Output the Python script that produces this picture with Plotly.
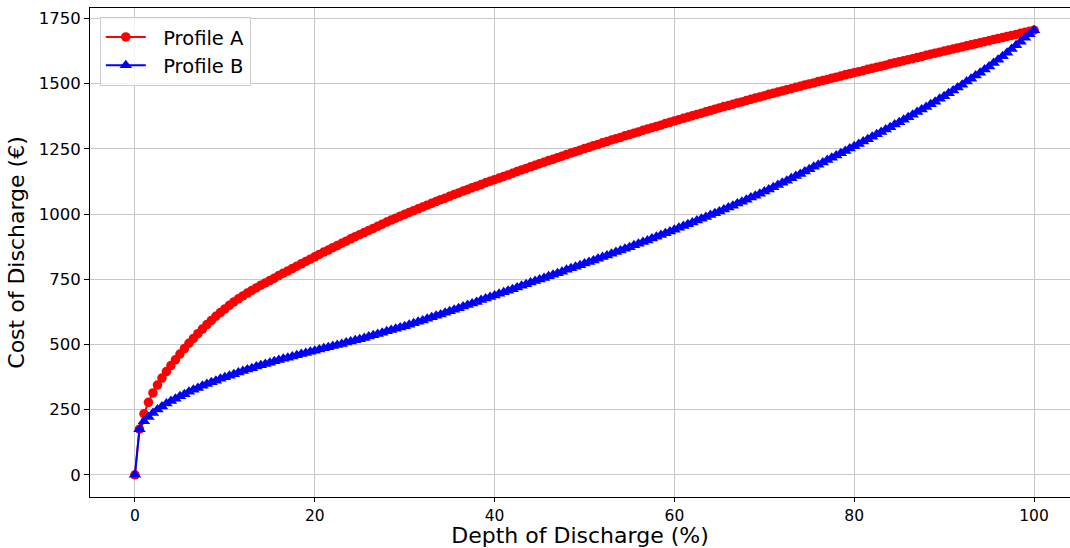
import plotly.graph_objects as go

# Depth of discharge grid (%), sampled every 0.5 %
depth = [i / 2 for i in range(201)]

# Cost of discharge (EUR) for each profile
profile_a = [
    0, 175, 234, 278, 314, 344, 371, 396, 419, 441, 463,
    484, 504, 523, 541, 559, 576, 592, 608, 622, 636,
    650, 663, 675, 686, 697, 707, 717, 727, 736, 745,
    754, 764, 773, 782, 791, 800, 809, 818, 827, 836,
    845, 854, 862, 871, 879, 888, 896, 905, 913, 921,
    929, 937, 945, 953, 961, 969, 977, 984, 992, 999,
    1006, 1013, 1020, 1027, 1034, 1041, 1048, 1055, 1061, 1068,
    1075, 1081, 1088, 1094, 1101, 1107, 1113, 1120, 1126, 1132,
    1138, 1144, 1150, 1156, 1163, 1169, 1175, 1181, 1187, 1193,
    1199, 1205, 1210, 1216, 1222, 1228, 1234, 1239, 1245, 1251,
    1256, 1262, 1267, 1273, 1278, 1284, 1289, 1294, 1300, 1305,
    1310, 1315, 1321, 1326, 1331, 1336, 1341, 1347, 1352, 1357,
    1362, 1367, 1372, 1377, 1382, 1387, 1392, 1397, 1402, 1407,
    1412, 1416, 1421, 1426, 1430, 1435, 1440, 1445, 1449, 1454,
    1459, 1463, 1468, 1472, 1477, 1481, 1486, 1490, 1495, 1499,
    1503, 1508, 1512, 1516, 1521, 1525, 1529, 1534, 1538, 1542,
    1546, 1550, 1555, 1559, 1563, 1567, 1571, 1576, 1580, 1584,
    1588, 1592, 1596, 1600, 1604, 1609, 1613, 1617, 1621, 1625,
    1629, 1633, 1637, 1641, 1645, 1649, 1653, 1657, 1661, 1665,
    1669, 1673, 1677, 1681, 1685, 1689, 1693, 1697, 1701, 1705,
]

profile_b = [
    0, 175, 205, 222, 237, 250, 262, 273, 283, 292, 301,
    309, 318, 326, 333, 341, 348, 355, 361, 368, 374,
    380, 386, 392, 398, 404, 409, 415, 420, 425, 430,
    435, 440, 445, 449, 454, 458, 463, 467, 472, 476,
    480, 485, 489, 494, 498, 502, 507, 511, 516, 520,
    525, 530, 535, 540, 545, 550, 555, 560, 565, 570,
    575, 581, 587, 592, 598, 604, 610, 615, 621, 627,
    633, 639, 645, 651, 657, 663, 670, 676, 682, 688,
    694, 700, 706, 712, 718, 725, 731, 737, 743, 749,
    755, 761, 767, 773, 779, 786, 792, 798, 804, 810,
    816, 822, 829, 835, 841, 848, 854, 860, 867, 873,
    880, 886, 893, 899, 906, 913, 920, 926, 933, 940,
    947, 954, 961, 968, 975, 982, 989, 996, 1003, 1010,
    1017, 1025, 1032, 1040, 1047, 1055, 1063, 1070, 1078, 1086,
    1094, 1103, 1111, 1120, 1128, 1137, 1146, 1154, 1163, 1172,
    1181, 1189, 1198, 1207, 1216, 1225, 1233, 1242, 1251, 1260,
    1269, 1278, 1287, 1296, 1306, 1315, 1324, 1333, 1343, 1352,
    1362, 1371, 1381, 1391, 1401, 1411, 1421, 1431, 1442, 1452,
    1463, 1474, 1485, 1496, 1508, 1519, 1531, 1542, 1554, 1566,
    1579, 1592, 1605, 1619, 1633, 1647, 1661, 1676, 1690, 1705,
]

x_ticks = [0, 20, 40, 60, 80, 100]
y_ticks = [0, 250, 500, 750, 1000, 1250, 1500, 1750]

FONT = "DejaVu Sans"
GRID = "#c8c8c8"
PAD = "\u00a0\u00a0"  # small gap between legend symbol and label

fig = go.Figure()
fig.add_trace(go.Scatter(
    x=depth, y=profile_a, name=PAD + "Profile A", mode="lines+markers",
    line=dict(color="#ff0000", width=2),
    marker=dict(symbol="circle", size=9.5, color="#ff0000"),
))
fig.add_trace(go.Scatter(
    x=depth, y=profile_b, name=PAD + "Profile B", mode="lines+markers",
    line=dict(color="#0000ff", width=2),
    marker=dict(symbol="triangle-up", size=11, color="#0000ff"),
))

fig.update_layout(
    width=1070, height=548,
    margin=dict(l=90, r=0, t=8, b=51),
    paper_bgcolor="white", plot_bgcolor="white",
    font=dict(family=FONT, color="black", size=16),
    showlegend=True,
    legend=dict(
        x=0.01, y=0.982, xanchor="left", yanchor="top",
        bgcolor="rgba(255,255,255,0.8)", bordercolor="#cccccc", borderwidth=1,
        font=dict(family=FONT, size=19.5, color="black"),
        itemwidth=40, tracegroupgap=5,
    ),
)

fig.update_xaxes(
    range=[-5, 104.0], tickvals=x_ticks, ticktext=[str(v) for v in x_ticks],
    showgrid=True, gridcolor=GRID, gridwidth=1, zeroline=False,
    showline=True, linecolor="black", linewidth=1, mirror=True,
    ticks="outside", ticklen=4, tickcolor="black", automargin=False,
    tickfont=dict(family=FONT, size=15.5, color="black"),
    title=dict(text="Depth of Discharge (%)", font=dict(family=FONT, size=22), standoff=10),
)
fig.update_yaxes(
    range=[-85.25, 1790.25], tickvals=y_ticks, ticktext=[str(v) for v in y_ticks],
    showgrid=True, gridcolor=GRID, gridwidth=1, zeroline=False,
    showline=True, linecolor="black", linewidth=1, mirror=False,
    ticks="outside", ticklen=5, tickcolor="black", automargin=False,
    tickfont=dict(family=FONT, size=16.5, color="black"),
    title=dict(text="Cost of Discharge (€)", font=dict(family=FONT, size=22), standoff=8),
)

fig.write_html("out.html")
